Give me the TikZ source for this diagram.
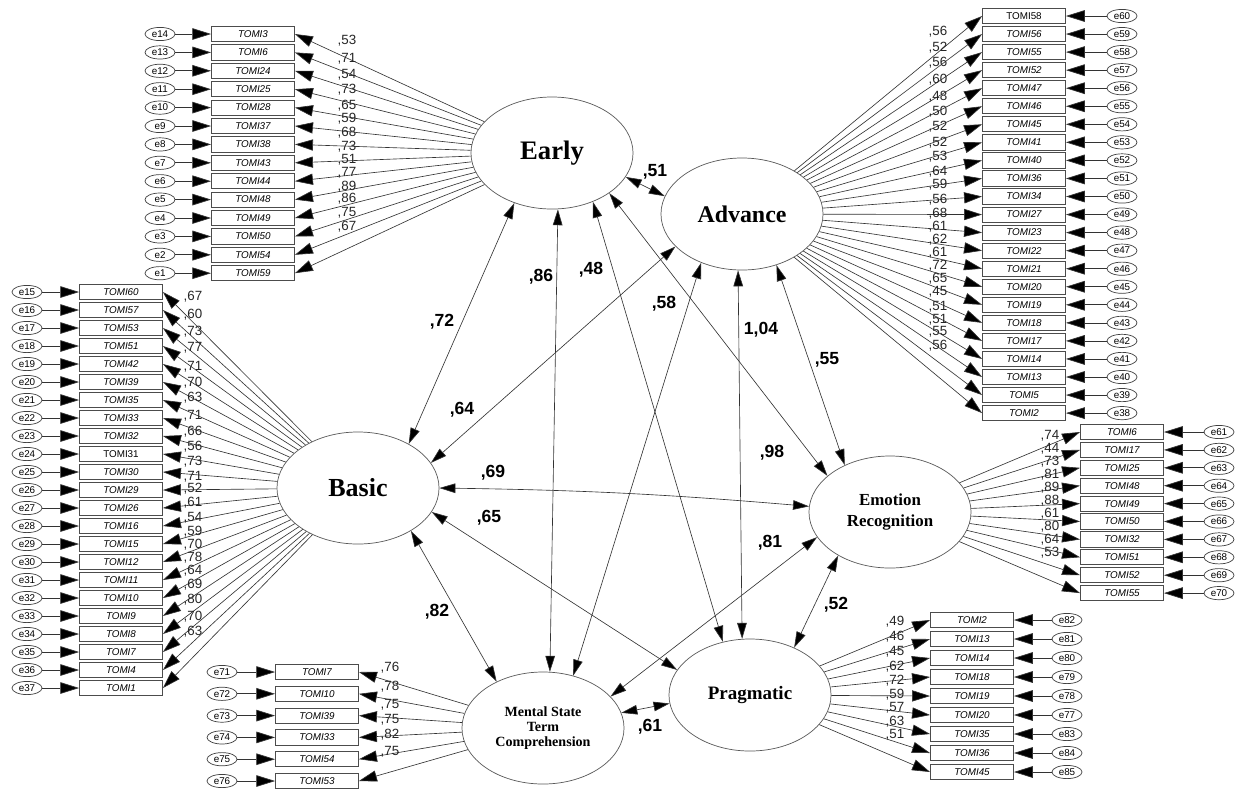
\documentclass[tikz,border=0pt]{standalone}
\usepackage{fontspec}
\setmainfont{Liberation Serif}
\setsansfont{Liberation Sans}
\usetikzlibrary{arrows.meta, shapes.geometric}
\tikzset{
    latent/.style={
        draw=black!65,
        ellipse,
        line width=0.5pt,
        minimum width=4.05cm,
        minimum height=2.8cm,
        inner sep=0pt,
        align=center
    },
    indicator/.style={
        draw=black!70,
        line width=0.6pt,
        minimum width=2.075cm,
        minimum height=0.38cm,
        inner sep=0pt,
        font=\sffamily\itshape\fontsize{7}{8}\selectfont
    },
    errvar/.style={
        draw=black!75,
        ellipse,
        line width=0.5pt,
        minimum width=0.75cm,
        minimum height=0.33cm,
        inner sep=0pt,
        font=\sffamily\fontsize{7}{8}\selectfont
    },
    load/.style={-{Triangle[length=0.45cm,width=0.28cm,fill=black]}, line width=0.45pt, draw=black!80},
    errline/.style={-{Triangle[length=0.47cm,width=0.29cm,fill=black]}, line width=0.5pt, draw=black!80},
    cov/.style={{Triangle[length=0.4cm,width=0.24cm,fill=black]}-{Triangle[length=0.4cm,width=0.24cm,fill=black]}, line width=0.45pt, draw=black!80},
    loadlab/.style={font=\sffamily\fontsize{9.5}{10}\selectfont, inner sep=0pt, text=black!85},
    covlab/.style={font=\sffamily\bfseries\fontsize{12.5}{13}\selectfont, inner sep=0pt}
}

\begin{document}
\begin{tikzpicture}[x=0.025cm, y=-0.025cm]

\path[fill=white] (0,0) rectangle (1236,792);
\useasboundingbox (0,0) rectangle (1236,792);

\node[latent, font=\bfseries\fontsize{19}{22}\selectfont] (early) at (552,153) {Early};
\node[latent, font=\bfseries\fontsize{17}{20}\selectfont] (advance) at (742,214) {Advance};
\node[latent, font=\bfseries\fontsize{18.5}{22}\selectfont] (basic) at (358,488) {Basic};
\node[latent, font=\bfseries\fontsize{12}{15}\selectfont] (emotion) at (890,512) {Emotion\\Recognition};
\node[latent, font=\bfseries\fontsize{10}{10.8}\selectfont] (mental) at (543,728) {Mental State\\Term\\Comprehension};
\node[latent, font=\bfseries\fontsize{13.5}{16}\selectfont] (pragmatic) at (750,695) {Pragmatic};

% Early
\foreach \tm/\er/\ld/\ly [count=\i] in {TOMI3/14/53/41, TOMI6/13/71/59, TOMI24/12/54/75,
    TOMI25/11/73/90, TOMI28/10/65/106, TOMI37/9/59/119, TOMI38/8/68/133, TOMI43/7/73/147,
    TOMI44/6/51/160, TOMI48/5/77/173, TOMI49/4/89/187, TOMI50/3/86/199, TOMI54/2/75/213,
    TOMI59/1/67/227} {
  \node[indicator] (ea\i) at (253,{34+18.4*(\i-1)}) {\tm};
  \node[errvar] (eae\i) at (160,{34+18.4*(\i-1)}) {e\er};
  \draw[errline] (eae\i) -- (ea\i);
  \draw[load] (early) -- (ea\i.east);
  \node[loadlab] (eal\i) at (347,\ly) {,\ld};
}

% Advance
\foreach \tm/\er/\ld/\ly [count=\i] in {\textup{TOMI58}/60/56/32, TOMI56/59/52/48,
    TOMI55/58/56/63, TOMI52/57/60/80, TOMI47/56/48/97, TOMI46/55/50/112, TOMI45/54/52/127,
    TOMI41/53/52/143, TOMI40/52/53/157, TOMI36/51/64/172, TOMI34/50/59/185, TOMI27/49/56/200,
    TOMI23/48/68/214, TOMI22/47/61/227, TOMI21/46/62/240, TOMI20/45/61/253, TOMI19/44/72/266,
    TOMI18/43/65/279, TOMI17/42/45/292, TOMI14/41/51/307, TOMI13/40/51/320, TOMI5/39/55/332,
    TOMI2/38/56/346} {
  \node[indicator] (ad\i) at (1024,{16+18.05*(\i-1)}) {\tm};
  \node[errvar] (ade\i) at (1122,{16+18.05*(\i-1)}) {e\er};
  \draw[errline] (ade\i) -- (ad\i);
  \draw[load] (advance) -- (ad\i.west);
  \node[loadlab] (adl\i) at (938,\ly) {,\ld};
}

% Basic
\foreach \tm/\er/\ld/\ly [count=\i] in {TOMI60/15/67/297, TOMI57/16/60/315, TOMI53/17/73/332,
    TOMI51/18/77/348, TOMI42/19/71/367, TOMI39/20/70/383, TOMI35/21/63/398, TOMI33/22/71/416,
    TOMI32/23/66/432, \textup{TOMI31}/24/56/447, TOMI30/25/73/462, TOMI29/26/71/477,
    TOMI26/27/52/489, TOMI16/28/61/503, TOMI15/29/54/518, TOMI12/30/59/532, TOMI11/31/70/545,
    TOMI10/32/78/558, TOMI9/33/64/571, TOMI8/34/69/585, TOMI7/35/80/600, TOMI4/36/70/617,
    TOMI1/37/63/632} {
  \node[indicator] (ba\i) at (121,{292+18*(\i-1)}) {\tm};
  \node[errvar] (bae\i) at (27,{292+18*(\i-1)}) {e\er};
  \draw[errline] (bae\i) -- (ba\i);
  \draw[load] (basic) -- (ba\i.east);
  \node[loadlab] (bal\i) at (193,\ly) {,\ld};
}

% Emotion Recognition
\foreach \tm/\er/\ld [count=\i] in {TOMI6/61/74, TOMI17/62/44, TOMI25/63/73,
    TOMI48/64/81, TOMI49/65/89, TOMI50/66/88, TOMI32/67/61, TOMI51/68/80,
    TOMI52/69/64, TOMI55/70/53} {
  \node[indicator] (em\i) at (1122,{432+17.9*(\i-1)}) {\tm};
  \node[errvar] (eme\i) at (1219,{432+17.9*(\i-1)}) {e\er};
  \draw[errline] (eme\i) -- (em\i);
  \draw[load] (emotion) -- (em\i.west);
  \node[loadlab] (eml\i) at (1050,{436+13*(\i-1)}) {,\ld};
}

% Mental State Term Comprehension
\foreach \tm/\er/\ld/\ly [count=\i] in {TOMI7/71/76/668, TOMI10/72/78/687, TOMI39/73/75/705,
    TOMI33/74/75/720, TOMI54/75/82/735, TOMI53/76/75/752} {
  \node[indicator] (ms\i) at (317,{672+21.8*(\i-1)}) {\tm};
  \node[errvar] (mse\i) at (222,{672+21.8*(\i-1)}) {e\er};
  \draw[errline] (mse\i) -- (ms\i);
  \draw[load] (mental) -- (ms\i.east);
  \node[loadlab] (msl\i) at (390,\ly) {,\ld};
}

% Pragmatic
\foreach \tm/\er/\ld/\ly [count=\i] in {TOMI2/82/49/622, TOMI13/81/46/637, TOMI14/80/45/652,
    TOMI18/79/62/667, TOMI19/78/72/681, TOMI20/77/59/695, TOMI35/83/57/708, TOMI36/84/63/722,
    TOMI45/85/51/735} {
  \node[indicator] (pr\i) at (972,{620+19*(\i-1)}) {\tm};
  \node[errvar] (pre\i) at (1067,{620+19*(\i-1)}) {e\er};
  \draw[errline] (pre\i) -- (pr\i);
  \draw[load] (pragmatic) -- (pr\i.west);
  \node[loadlab] (prl\i) at (895,\ly) {,\ld};
}

% correlations
\draw[cov] (early.342) -- (advance.167);
\draw[cov] (early.233) -- (basic.41);
\draw[cov] (early.276) -- (mental.83);
\draw[cov] (early.310) -- (pragmatic.117);
\draw[cov] (early.325) -- (emotion.150);
\draw[cov] (advance.206) -- (basic.19);
\draw[cov] (advance.230) -- (mental.60);
\draw[cov] (advance.266) -- (pragmatic.98);
\draw[cov] (advance.304) -- (emotion.134);
\draw[cov] (basic.0) to[bend left=2] (emotion.176);
\draw[cov] (basic.342) -- (pragmatic.161);
\draw[cov] (basic.321) -- (mental.135);
\draw[cov] (emotion.199) -- (mental.25);
\draw[cov] (emotion.220) -- (pragmatic.47);
\draw[cov] (mental.11) -- (pragmatic.186);

\node[covlab] (r51) at (655,172) {,51};
\node[covlab] (r72) at (442,322) {,72};
\node[covlab] (r86) at (541,277) {,86};
\node[covlab] (r48) at (591,270) {,48};
\node[covlab] (r58) at (664,304) {,58};
\node[covlab] (r104) at (761,330) {1,04};
\node[covlab] (r55) at (827,360) {,55};
\node[covlab] (r64) at (462,410) {,64};
\node[covlab] (r98) at (772,453) {,98};
\node[covlab] (r69) at (493,473) {,69};
\node[covlab] (r65) at (489,518) {,65};
\node[covlab] (r81) at (770,543) {,81};
\node[covlab] (r82) at (437,612) {,82};
\node[covlab] (r52) at (836,605) {,52};
\node[covlab] (r61) at (650,727) {,61};

\end{tikzpicture}
\end{document}
